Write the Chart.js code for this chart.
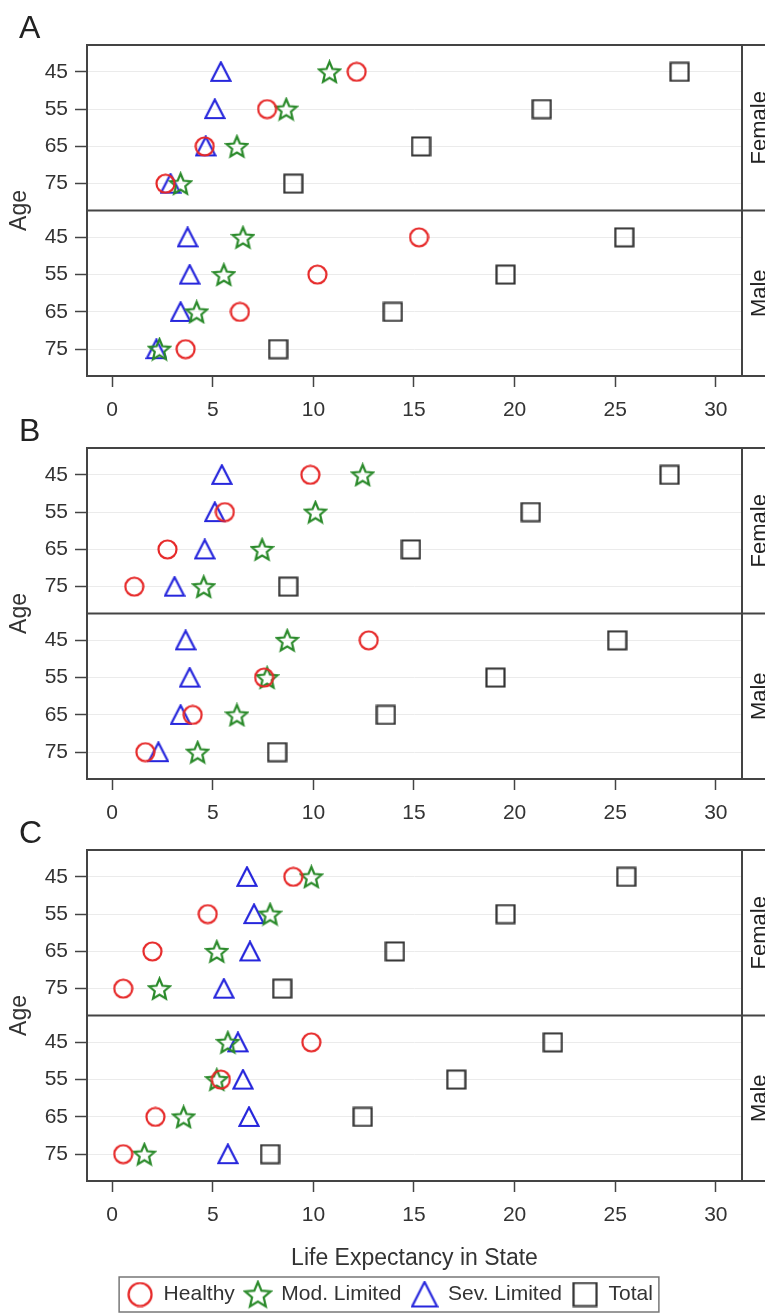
<!DOCTYPE html>
<html>
<head>
<meta charset="utf-8">
<script src="https://cdn.jsdelivr.net/npm/chart.js@4.4.1/dist/chart.umd.min.js"></script>
<style>
  body { margin: 0; background: #fff; }
  .panel { position: absolute; left: 0; width: 765px; }
</style>
</head>
<body>
<div class="panel" style="top:0px;height:420px"><canvas id="chartA"></canvas></div>
<div class="panel" style="top:403px;height:420px"><canvas id="chartB"></canvas></div>
<div class="panel" style="top:805px;height:510px"><canvas id="chartC"></canvas></div>
<script>
const ageLabels = ['45', '55', '65', '75'];
const xTicks = [0, 5, 10, 15, 20, 25, 30];
const sexLabels = ['Female', 'Male'];
const seriesNames = ['Healthy', 'Mod. Limited', 'Sev. Limited', 'Total'];

// panel A
const aHealthyF = [12.15, 7.7, 4.6, 2.65];
const aHealthyM = [15.25, 10.2, 6.35, 3.65];
const aModF = [10.8, 8.65, 6.2, 3.4];
const aModM = [6.5, 5.55, 4.2, 2.35];
const aSevF = [5.4, 5.1, 4.65, 2.9];
const aSevM = [3.75, 3.85, 3.4, 2.2];
const aTotalF = [28.2, 21.35, 15.35, 9.0];
const aTotalM = [25.45, 19.55, 13.95, 8.25];

// panel B
const bHealthyF = [9.85, 5.6, 2.75, 1.1];
const bHealthyM = [12.75, 7.55, 4.0, 1.65];
const bModF = [12.45, 10.1, 7.45, 4.55];
const bModM = [8.7, 7.7, 6.2, 4.25];
const bSevF = [5.45, 5.1, 4.6, 3.1];
const bSevM = [3.65, 3.85, 3.4, 2.3];
const bTotalF = [27.7, 20.8, 14.85, 8.75];
const bTotalM = [25.1, 19.05, 13.6, 8.2];

// panel C
const cHealthyF = [9.0, 4.75, 2.0, 0.55];
const cHealthyM = [9.9, 5.4, 2.15, 0.55];
const cModF = [9.9, 7.85, 5.2, 2.35];
const cModM = [5.75, 5.2, 3.55, 1.6];
const cSevF = [6.7, 7.05, 6.85, 5.55];
const cSevM = [6.25, 6.5, 6.8, 5.75];
const cTotalF = [25.55, 19.55, 14.05, 8.45];
const cTotalM = [21.9, 17.1, 12.45, 7.85];

// layout of the two stacked rows on one y scale
const maleShift = 4.44;
const dividerValue = 3.72;
const yMin = -0.72;
const yMax = 8.16;
const yTickValues = ageLabels.map((l, i) => i).concat(ageLabels.map((l, i) => i + maleShift));

const FONT = '"Liberation Sans", Arial, sans-serif';
const shapes = ['circle', 'star', 'triangle', 'square'];
const colors = ['#e62828', '#2a8a2a', '#2626dc', '#333333'];

function makeMarker(shape, color, size) {
  const c = document.createElement('canvas');
  c.width = size; c.height = size;
  const g = c.getContext('2d');
  g.strokeStyle = color;
  g.lineWidth = 2.2;
  g.lineJoin = 'miter';
  const m = size / 2;
  g.beginPath();
  if (shape === 'circle') {
    g.arc(m, m, m - 1.5, 0, Math.PI * 2);
  } else if (shape === 'square') {
    g.rect(1.5, 1.5, size - 3, size - 3);
  } else if (shape === 'triangle') {
    g.moveTo(m, 1.5);
    g.lineTo(size - 1.5, size - 2);
    g.lineTo(1.5, size - 2);
    g.closePath();
  } else {
    const ro = m - 1.5, ri = ro * 0.45;
    for (let k = 0; k < 10; k++) {
      const r = k % 2 ? ri : ro;
      const ang = -Math.PI / 2 + k * Math.PI / 5;
      const px = m + r * Math.cos(ang), py = m + 1 + r * Math.sin(ang);
      if (k === 0) g.moveTo(px, py); else g.lineTo(px, py);
    }
    g.closePath();
  }
  g.stroke();
  return c;
}

const plotSizes = [21, 25, 22, 21];
const legendSizes = [26, 30, 28, 26];
const plotMarkers = shapes.map((s, i) => makeMarker(s, colors[i], plotSizes[i]));
const legendMarkers = shapes.map((s, i) => makeMarker(s, colors[i], legendSizes[i]));

function buildPoints(female, male) {
  const pts = female.map((v, i) => ({ x: v, y: i }));
  male.forEach((v, i) => pts.push({ x: v, y: i + maleShift }));
  return pts;
}

function panelDecor(letter) {
  return {
    id: 'panelDecor' + letter,
    beforeDatasetsDraw(chart) {
      const { ctx, chartArea: a } = chart;
      const mid = chart.scales.y.getPixelForValue(dividerValue);
      ctx.save();
      ctx.strokeStyle = '#444';
      ctx.lineWidth = 2;
      ctx.beginPath();
      [a.top, mid, a.bottom].forEach(yy => { ctx.moveTo(a.left - 1, yy); ctx.lineTo(chart.width, yy); });
      ctx.moveTo(a.left, a.top); ctx.lineTo(a.left, a.bottom);
      ctx.moveTo(a.right, a.top); ctx.lineTo(a.right, a.bottom);
      ctx.stroke();
      ctx.fillStyle = '#222';
      ctx.font = '22px ' + FONT;
      ctx.textAlign = 'center';
      ctx.textBaseline = 'middle';
      [[a.top, mid], [mid, a.bottom]].forEach(([t, b], i) => {
        ctx.save();
        ctx.translate(a.right + 18, (t + b) / 2);
        ctx.rotate(-Math.PI / 2);
        ctx.fillText(sexLabels[i], 0, 0);
        ctx.restore();
      });
      ctx.font = '32px ' + FONT;
      ctx.textAlign = 'left';
      ctx.textBaseline = 'alphabetic';
      ctx.fillText(letter, 19, 38);
      ctx.restore();
    },
    afterLayout(chart) {
      if (chart.legend && chart.legend.options.display) {
        chart.legend.left += 19;
        chart.legend.right += 19;
      }
    },
    afterDraw(chart) {
      const lg = chart.legend;
      if (!lg || !lg.options.display) return;
      const hb = lg.legendHitBoxes;
      const last = hb[hb.length - 1];
      const ctx = chart.ctx;
      ctx.save();
      ctx.strokeStyle = '#777';
      ctx.lineWidth = 1.5;
      ctx.strokeRect(hb[0].left - 8, hb[0].top - 7, last.left + last.width + 14 - hb[0].left, hb[0].height + 14);
      ctx.restore();
    }
  };
}

function makeChart(id, letter, series, withLegend) {
  const ctx = document.getElementById(id).getContext('2d');
  new Chart(ctx, {
    type: 'scatter',
    data: {
      datasets: series.map((s, i) => ({
        label: seriesNames[i],
        data: buildPoints(s[0], s[1]),
        pointStyle: plotMarkers[i],
        pointRadius: 5,
        borderColor: colors[i],
        backgroundColor: 'transparent',
      })),
    },
    options: {
      responsive: true,
      maintainAspectRatio: false,
      animation: false,
      layout: { padding: { top: 45, right: 23, left: 0, bottom: 0 } },
      plugins: {
        tooltip: { enabled: false },
        legend: {
          display: withLegend,
          position: 'bottom',
          labels: {
            usePointStyle: true,
            pointStyleWidth: 26,
            padding: 10,
            color: '#333',
            font: { family: FONT, size: 21 },
            generateLabels: chart => chart.data.datasets.map((ds, i) => ({
              text: ds.label,
              pointStyle: legendMarkers[i],
              fillStyle: 'transparent',
              strokeStyle: 'transparent',
              lineWidth: 0,
              hidden: false,
              datasetIndex: i,
              fontColor: '#333',
            })),
          },
        },
      },
      scales: {
        x: {
          type: 'linear',
          min: -1.25,
          max: 31.3,
          afterBuildTicks: s => { s.ticks = xTicks.map(v => ({ value: v })); },
          afterFit: s => {
            const lgH = withLegend && s.chart.legend ? s.chart.legend.height : 0;
            s.height = s.chart.height - 376 - lgH;
          },
          border: { display: false },
          grid: { drawOnChartArea: false, tickLength: 11, tickColor: '#444', tickWidth: 1.5 },
          ticks: { color: '#333', padding: 11, font: { family: FONT, size: 21 } },
          title: {
            display: withLegend,
            text: 'Life Expectancy in State',
            color: '#333',
            font: { family: FONT, size: 23 },
            padding: { top: 0, bottom: 2 },
          },
        },
        y: {
          type: 'linear',
          reverse: true,
          min: yMin,
          max: yMax,
          afterBuildTicks: s => { s.ticks = yTickValues.map(v => ({ value: v })); },
          afterFit: s => { s.width = 87; },
          border: { display: false },
          grid: { color: '#ebebeb', lineWidth: 1, tickLength: 12, tickColor: '#444', tickWidth: 1.5 },
          ticks: {
            color: '#333',
            padding: 7,
            font: { family: FONT, size: 21 },
            callback: (v, i) => ageLabels[i % ageLabels.length],
          },
          title: {
            display: true,
            text: 'Age',
            color: '#333',
            font: { family: FONT, size: 23 },
            padding: { top: 6, bottom: 0 },
          },
        },
      },
    },
    plugins: [panelDecor(letter)],
  });
}

makeChart('chartA', 'A', [[aHealthyF, aHealthyM], [aModF, aModM], [aSevF, aSevM], [aTotalF, aTotalM]], false);
makeChart('chartB', 'B', [[bHealthyF, bHealthyM], [bModF, bModM], [bSevF, bSevM], [bTotalF, bTotalM]], false);
makeChart('chartC', 'C', [[cHealthyF, cHealthyM], [cModF, cModM], [cSevF, cSevM], [cTotalF, cTotalM]], true);
</script>
</body>
</html>
